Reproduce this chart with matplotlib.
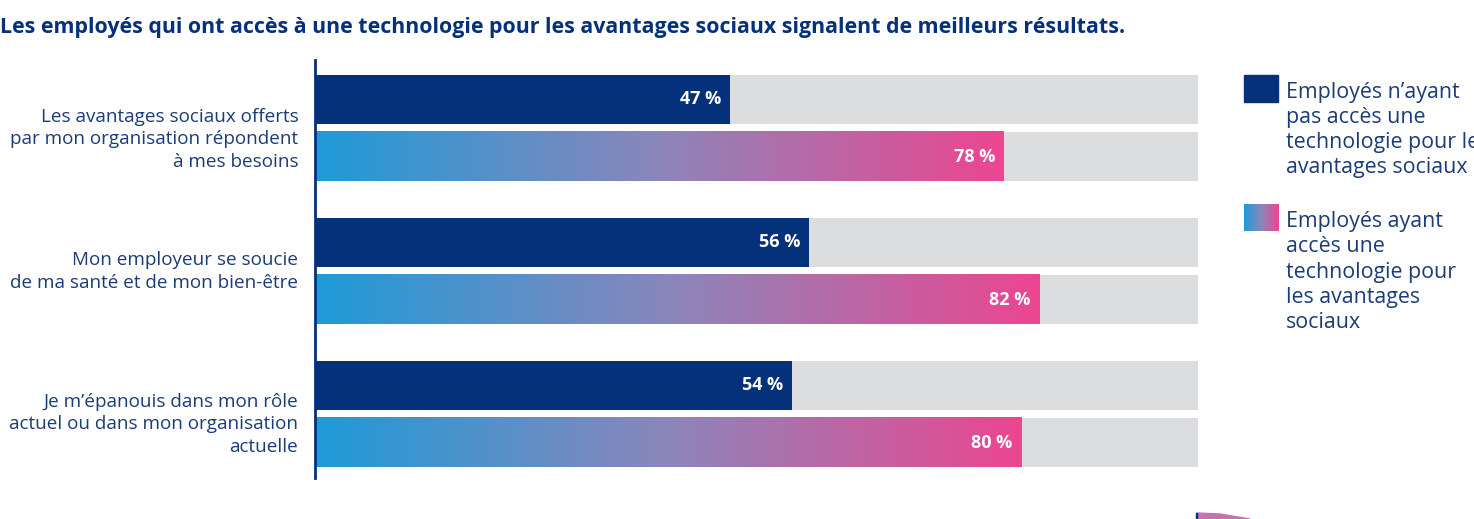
import matplotlib
matplotlib.use("Agg")
import matplotlib.pyplot as plt
import numpy as np
from matplotlib.colors import LinearSegmentedColormap
from matplotlib.patches import Rectangle, Polygon
from matplotlib.transforms import ScaledTranslation

plt.rcParams['font.family'] = ['Open Sans', 'DejaVu Sans']

title = "Les employés qui ont accès à une technologie pour les avantages sociaux signalent de meilleurs résultats."
categories = [
    "Les avantages sociaux offerts\npar mon organisation répondent\nà mes besoins",
    "Mon employeur se soucie\nde ma santé et de mon bien-être",
    "Je m’épanouis dans mon rôle\nactuel ou dans mon organisation\nactuelle",
]
sans_tech = [47, 56, 54]
avec_tech = [78, 82, 80]
legend_labels = [
    "Employés n’ayant\npas accès une\ntechnologie pour les\navantages sociaux",
    "Employés ayant\naccès une\ntechnologie pour\nles avantages\nsociaux",
]

NAVY = "#05307A"
TEXT = "#1B3C78"
GREY = "#DCDDDF"
grad = LinearSegmentedColormap.from_list("g", ["#1E9BD8", "#8C86BA", "#EC4690"])

W, H = 1474, 519
fig = plt.figure(figsize=(W / 100, H / 100), dpi=100)

def fx(px):
    return px / W

def fy(py):
    return 1 - py / H

ax = fig.add_axes([fx(315), fy(478), fx(1198) - fx(315), fy(60) - fy(478)])
ax.set_xlim(0, 100)
ytop, ybot = -0.476, 2.448
ax.set_ylim(ybot, ytop)
for s in ["top", "right", "bottom"]:
    ax.spines[s].set_visible(False)
ax.spines["left"].set_color(NAVY)
ax.spines["left"].set_linewidth(2)
ax.set_xticks([])
ax.set_yticks(range(len(categories)))
ax.set_yticklabels(categories, fontsize=13.6, color=TEXT, linespacing=1.32, va="baseline")
ax.tick_params(axis="y", length=0, pad=12)
# shift of last-line baseline below the group centre (pixels)
label_shift = [38.5, 16.5, 37.7]
for lab, dy in zip(ax.get_yticklabels(), label_shift):
    lab.set_transform(lab.get_transform() + ScaledTranslation(0, -dy / 100, fig.dpi_scale_trans))

off, h = 0.2, 0.343
grad_img = np.linspace(0, 1, 256).reshape(1, -1)
for i in range(len(categories)):
    y1 = i - off
    y2 = i + off
    ax.barh([y1, y2], [100, 100], height=h, color=GREY, zorder=1)
    ax.barh(y1, sans_tech[i], height=h, color=NAVY, zorder=2)
    ax.imshow(grad_img, cmap=grad, aspect="auto", zorder=2,
              extent=[0, avec_tech[i], y2 + h / 2, y2 - h / 2], interpolation="bilinear")
    ax.text(sans_tech[i] - 1.0, y1, f"{sans_tech[i]} %", ha="right", va="center",
            color="white", fontsize=13, fontweight="bold", zorder=3)
    ax.text(avec_tech[i] - 1.0, y2, f"{avec_tech[i]} %", ha="right", va="center",
            color="white", fontsize=13, fontweight="bold", zorder=3)
ax.set_ylim(ybot, ytop)

fig.text(0, fy(28), title, fontsize=15.4, fontweight="bold", color=NAVY, ha="left", va="center")

# legend
lax = fig.add_axes([0, 0, 1, 1], zorder=5)
lax.set_xlim(0, W)
lax.set_ylim(H, 0)
lax.axis("off")
lax.add_patch(Rectangle((1244, 75), 34, 27, color=NAVY))
lax.imshow(np.linspace(0, 0.75, 64).reshape(1, -1), cmap=grad, aspect="auto",
           extent=[1244, 1279, 231, 204], interpolation="bilinear")
lax.text(1286, 82, legend_labels[0], fontsize=15.4, color=TEXT, va="top", ha="left",
         linespacing=1.25)
lax.text(1286, 211, legend_labels[1], fontsize=15.4, color=TEXT, va="top", ha="left",
         linespacing=1.27)
lax.add_patch(Polygon([[1197, 513], [1220, 514], [1250, 519], [1197, 519]], closed=True, color="#C872B0"))
lax.add_patch(Rectangle((1196, 513), 1.5, 6, color=NAVY))
lax.set_xlim(0, W)
lax.set_ylim(H, 0)

fig.savefig("out.png", dpi=100, facecolor="white")
